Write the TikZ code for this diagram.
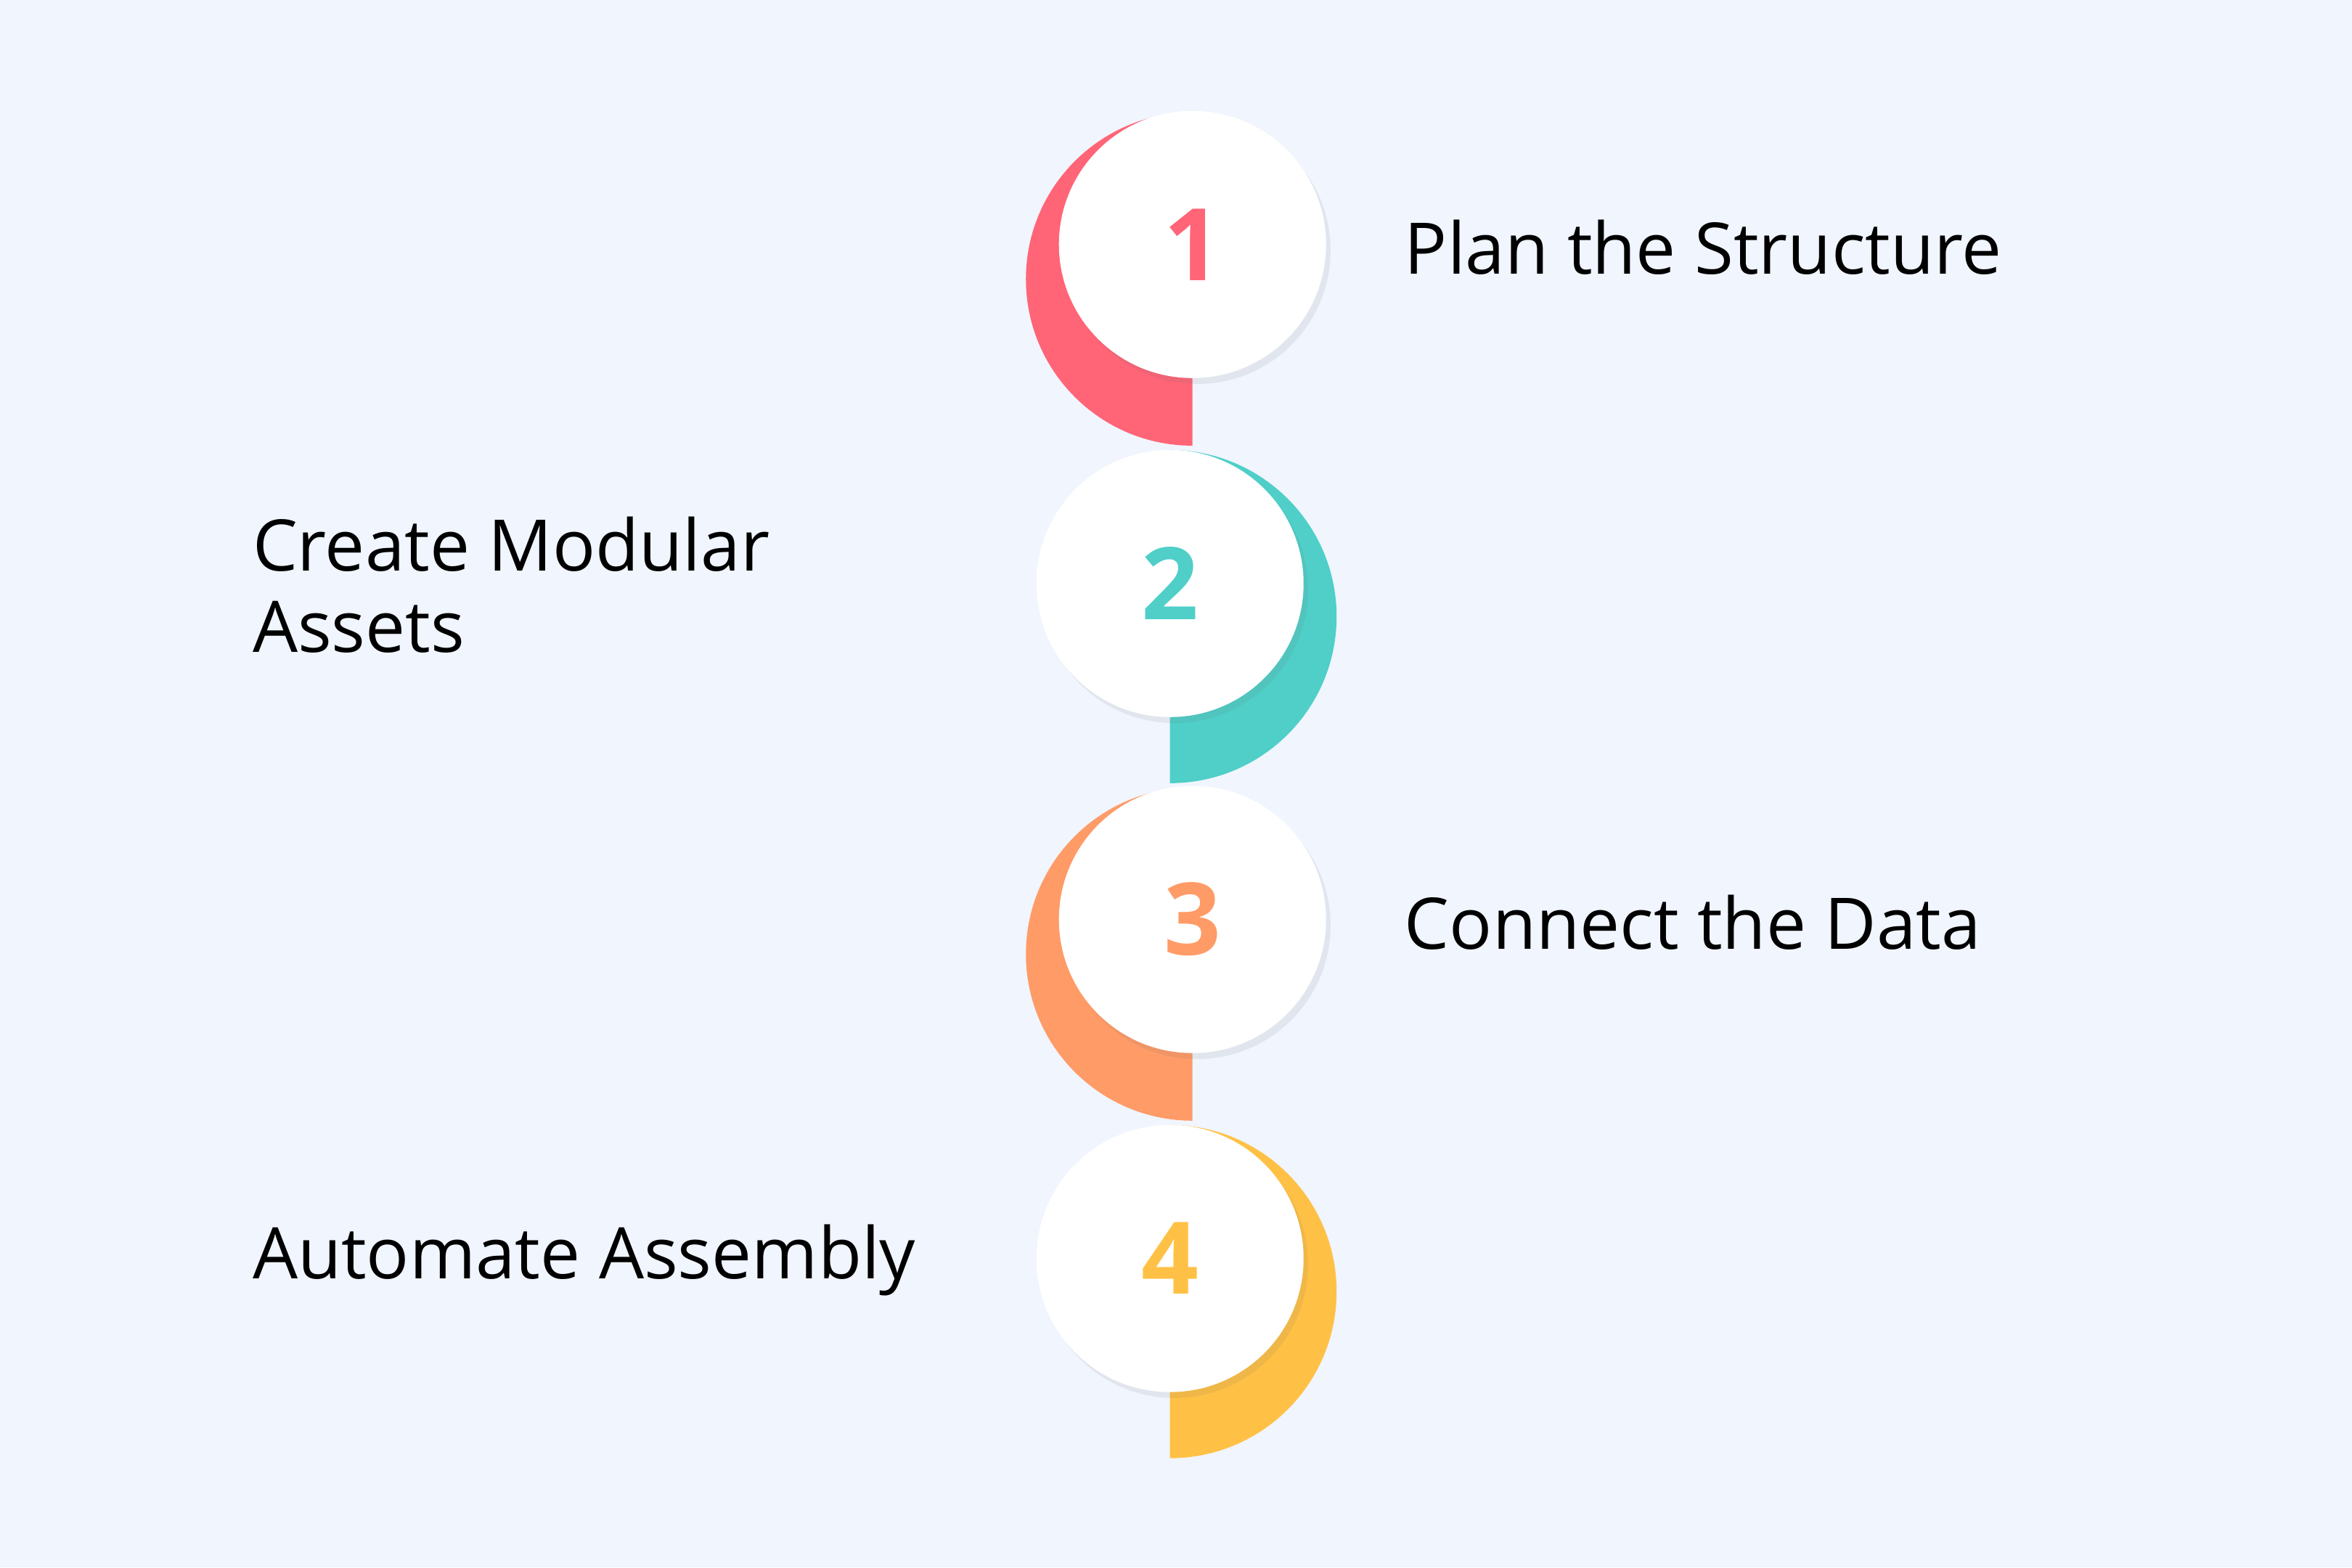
\documentclass[tikz,border=0pt]{standalone}
\usepackage{fontspec}
\setmainfont{Open Sans}
\usetikzlibrary{shadows}
\definecolor{bg}{HTML}{F0F5FE}
\definecolor{cA}{HTML}{FF6577}
\definecolor{cB}{HTML}{4FCFC8}
\definecolor{cC}{HTML}{FF9B67}
\definecolor{cD}{HTML}{FFC145}
\tikzset{
  disc/.style={circle,fill=white,minimum size=1.78cm,inner sep=0pt,
    drop shadow={shadow xshift=0.03cm,shadow yshift=-0.04cm,opacity=0.10,fill=black!60}},
  num/.style={font=\fontsize{19}{22}\selectfont\bfseries},
  lab/.style={anchor=west,align=left,font=\fontsize{13.5}{15.4}\selectfont,text=black}
}
\begin{document}
\begin{tikzpicture}[x=0.01cm,y=0.01cm]
\fill[bg] (0,0) rectangle (1568,1045);
\useasboundingbox (0,0) rectangle (1568,1045);
% step 1
\fill[cA] (795,970) arc[start angle=90,end angle=270,radius=1.11cm] -- cycle;
\node[disc,num,text=cA] (n1) at (795,882) {1};
% step 2
\fill[cB] (780,745) arc[start angle=90,end angle=-90,radius=1.11cm] -- cycle;
\node[disc,num,text=cB] (n2) at (780,656) {2};
% step 3
\fill[cC] (795,520) arc[start angle=90,end angle=270,radius=1.11cm] -- cycle;
\node[disc,num,text=cC] (n3) at (795,432) {3};
% step 4
\fill[cD] (780,295) arc[start angle=90,end angle=-90,radius=1.11cm] -- cycle;
\node[disc,num,text=cD] (n4) at (780,206) {4};
% labels
\node[lab] (t1) at (924,880) {Plan the Structure};
\node[lab] (t2) at (156,655) {Create Modular\\Assets};
\node[lab] (t3) at (924,430) {Connect the Data};
\node[lab] (t4) at (156,205) {Automate Assembly};
\end{tikzpicture}
\end{document}
